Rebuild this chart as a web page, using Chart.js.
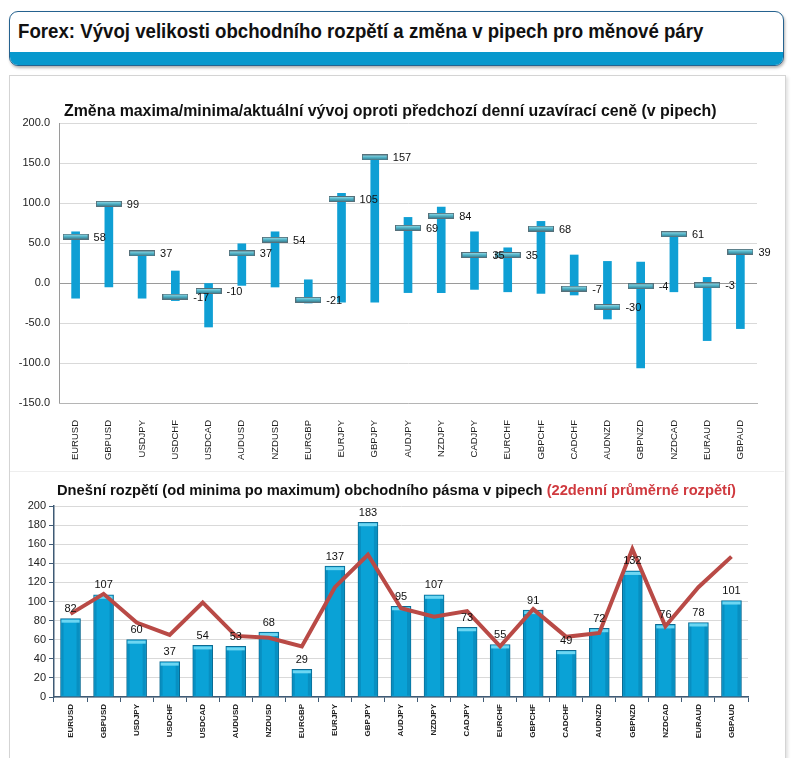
<!DOCTYPE html>
<html><head><meta charset="utf-8">
<script src="https://cdn.jsdelivr.net/npm/chart.js@4.4.0/dist/chart.umd.min.js"></script>
<style>
html,body{margin:0;padding:0;background:#fff;width:794px;height:758px;overflow:hidden;font-family:"Liberation Sans",Arial,sans-serif;}
#hdr{position:absolute;left:9px;top:11px;width:773px;height:53px;border:1.5px solid #25628f;border-radius:9px;overflow:hidden;background:#fff;box-shadow:1px 2px 3px rgba(0,0,0,0.3);}
#hdr .band{position:absolute;left:0;right:0;bottom:0;height:13px;background:#0798cd;}
#hdr .t{position:absolute;left:8px;top:8px;font-weight:bold;font-size:20px;color:#111;white-space:nowrap;transform:scaleX(0.933);transform-origin:0 0;}
#panel{position:absolute;left:9px;top:75px;width:775px;height:700px;border:1px solid #d4d4d4;box-shadow:2px 2px 3px rgba(0,0,0,0.12);}
#sep{position:absolute;left:10px;top:471px;width:774px;height:1px;background:#eeeeee;}
#c1{position:absolute;left:0;top:76px;}
#c2{position:absolute;left:0;top:470px;}
.ct{position:absolute;white-space:nowrap;font-weight:bold;color:#111;}
</style></head>
<body>
<div id="hdr"><div class="band"></div><div class="t">Forex: Vývoj velikosti obchodního rozpětí a změna v pipech pro měnové páry</div></div>
<div id="panel"></div>
<div id="sep"></div>
<canvas id="c1" width="794" height="394"></canvas>
<canvas id="c2" width="794" height="288"></canvas>
<div class="ct" id="t1" style="left:64px;top:102px;font-size:15.9px;">Změna maxima/minima/aktuální vývoj oproti předchozí denní uzavírací ceně (v pipech)</div>
<div class="ct" id="t2" style="left:57px;top:482px;font-size:14.7px;">Dnešní rozpětí (od minima po maximum) obchodního pásma v pipech <span style="color:#d03a3f">(22denní průměrné rozpětí)</span></div>
<script>
const pairs = ["EURUSD","GBPUSD","USDJPY","USDCHF","USDCAD","AUDUSD","NZDUSD","EURGBP","EURJPY","GBPJPY","AUDJPY","NZDJPY","CADJPY","EURCHF","GBPCHF","CADCHF","AUDNZD","GBPNZD","NZDCAD","EURAUD","GBPAUD"];
const highs   = [64, 100, 40, 15, 0, 49, 64, 4, 112, 158, 82, 95, 64, 44, 77, 35, 27, 26, 63, 7, 42];
const lows    = [-19, -5, -19, -22, -55, -3, -5, -25, -24, -24, -12, -12, -8, -11, -13, -15, -45, -106, -11, -72, -57];
const current = [58, 99, 37, -17, -10, 37, 54, -21, 105, 157, 69, 84, 35, 35, 68, -7, -30, -4, 61, -3, 39];
const topTicks = [-150, -100, -50, 0, 50, 100, 150, 200];

const todayRange = [82, 107, 60, 37, 54, 53, 68, 29, 137, 183, 95, 107, 73, 55, 91, 49, 72, 132, 76, 78, 101];
const avg22      = [87, 108, 78, 65, 99, 64, 62, 53, 115, 149, 93, 84, 90, 53, 92, 63, 67, 155, 74, 115, 147];

const FONT = "'Liberation Sans', Arial, sans-serif";

function makeCap(){
  const c=document.createElement('canvas');c.width=26;c.height=6;
  const g=c.getContext('2d');
  const gr=g.createLinearGradient(0,0,0,6);
  gr.addColorStop(0,'#b4e6ee');gr.addColorStop(0.45,'#55b8cc');gr.addColorStop(1,'#2b7388');
  g.fillStyle=gr;g.fillRect(0,0,26,6);
  g.strokeStyle='#56707a';g.lineWidth=1;g.strokeRect(0.5,0.5,25,5);
  return c;
}
const capImg = makeCap();

const capLabels = {
  id:'capLabels',
  afterDatasetsDraw(chart){
    const meta = chart.getDatasetMeta(1);
    const ctx = chart.ctx;
    ctx.save();
    ctx.font = "11px "+FONT; ctx.fillStyle='#111'; ctx.textBaseline='middle'; ctx.textAlign='left';
    meta.data.forEach((pt,i)=>{ ctx.fillText(String(current[i]), pt.x+18, pt.y+1); });
    ctx.restore();
  }
};

new Chart(document.getElementById('c1'),{
  type:'bar',
  data:{labels:pairs,datasets:[
    {type:'bar',data:pairs.map((p,i)=>[lows[i],highs[i]]),backgroundColor:'#0f9fd4',barThickness:8,grouped:false,order:2},
    {type:'line',data:current,showLine:false,pointStyle:capImg,pointRadius:5,order:1}
  ]},
  options:{
    responsive:false,animation:false,
    layout:{padding:{top:47,right:37,left:0,bottom:0}},
    plugins:{legend:{display:false},tooltip:{enabled:false}},
    scales:{
      y:{min:-150,max:200,
        afterBuildTicks(s){s.ticks=topTicks.map(v=>({value:v}));},
        afterFit(s){s.width=59;},
        ticks:{callback:v=>Number(v).toFixed(1),font:{size:11,family:FONT},color:'#222',padding:9},
        grid:{color:c=>c.tick&&c.tick.value===0?'#9a9a9a':'#d9d9d9',drawTicks:false},
        border:{display:true,color:'#9a9a9a'}},
      x:{afterFit(s){s.height=67;},
        grid:{display:false},
        border:{display:true,color:'#b5b5b5'},
        ticks:{maxRotation:90,minRotation:90,font:{size:9.5,family:FONT},color:'#222',padding:9,autoSkip:false}}
    }
  },
  plugins:[capLabels]
});

const barDeco = {
  id:'barDeco',
  afterDatasetDraw(chart,args){
    if(args.index!==0) return;
    const ctx=chart.ctx;
    ctx.save();
    args.meta.data.forEach(b=>{
      const w=b.width, x0=b.x-w/2, y0=b.y, h=b.base-b.y;
      ctx.fillStyle='rgba(120,220,245,0.9)';
      ctx.fillRect(x0+1,y0+1,w-2,3);
      ctx.fillStyle='rgba(0,60,100,0.18)';
      ctx.fillRect(x0+1,y0+4,2,h-5);
      ctx.fillRect(x0+w-4,y0+4,3,h-5);
    });
    ctx.restore();
  }
};
const barLabels = {
  id:'barLabels',
  afterDatasetsDraw(chart){
    const meta=chart.getDatasetMeta(0);
    const ctx=chart.ctx;
    ctx.save();
    ctx.font="11px "+FONT; ctx.fillStyle='#111'; ctx.textAlign='center'; ctx.textBaseline='bottom';
    meta.data.forEach((b,i)=>{ ctx.fillText(String(todayRange[i]), b.x, b.y-4); });
    ctx.restore();
  }
};

new Chart(document.getElementById('c2'),{
  type:'bar',
  data:{labels:pairs,datasets:[
    {type:'bar',data:todayRange,backgroundColor:'#0aa2d6',borderColor:'#0b6a92',borderWidth:1,barThickness:20,order:2},
    {type:'line',data:avg22,borderColor:'#b94a46',borderWidth:4,pointRadius:0,tension:0,order:1}
  ]},
  options:{
    responsive:false,animation:false,
    layout:{padding:{top:36,right:46,left:0,bottom:0}},
    plugins:{legend:{display:false},tooltip:{enabled:false}},
    scales:{
      y:{min:0,max:200,
        afterFit(s){s.width=54;},
        ticks:{stepSize:20,font:{size:11,family:FONT},color:'#222',padding:3},
        grid:{color:'#d9d9d9',tickColor:'#3f5a75',tickLength:5},
        border:{display:true,color:'#3f5a75',width:1.5}},
      x:{afterFit(s){s.height=61;},
        grid:{offset:true,drawOnChartArea:false,tickColor:'#3f5a75',tickLength:5},
        border:{display:true,color:'#3f5a75',width:1.5},
        ticks:{maxRotation:90,minRotation:90,font:{size:8,weight:'bold',family:FONT},color:'#222',padding:2,autoSkip:false}}
    }
  },
  plugins:[barDeco,barLabels]
});
</script>
</body></html>
